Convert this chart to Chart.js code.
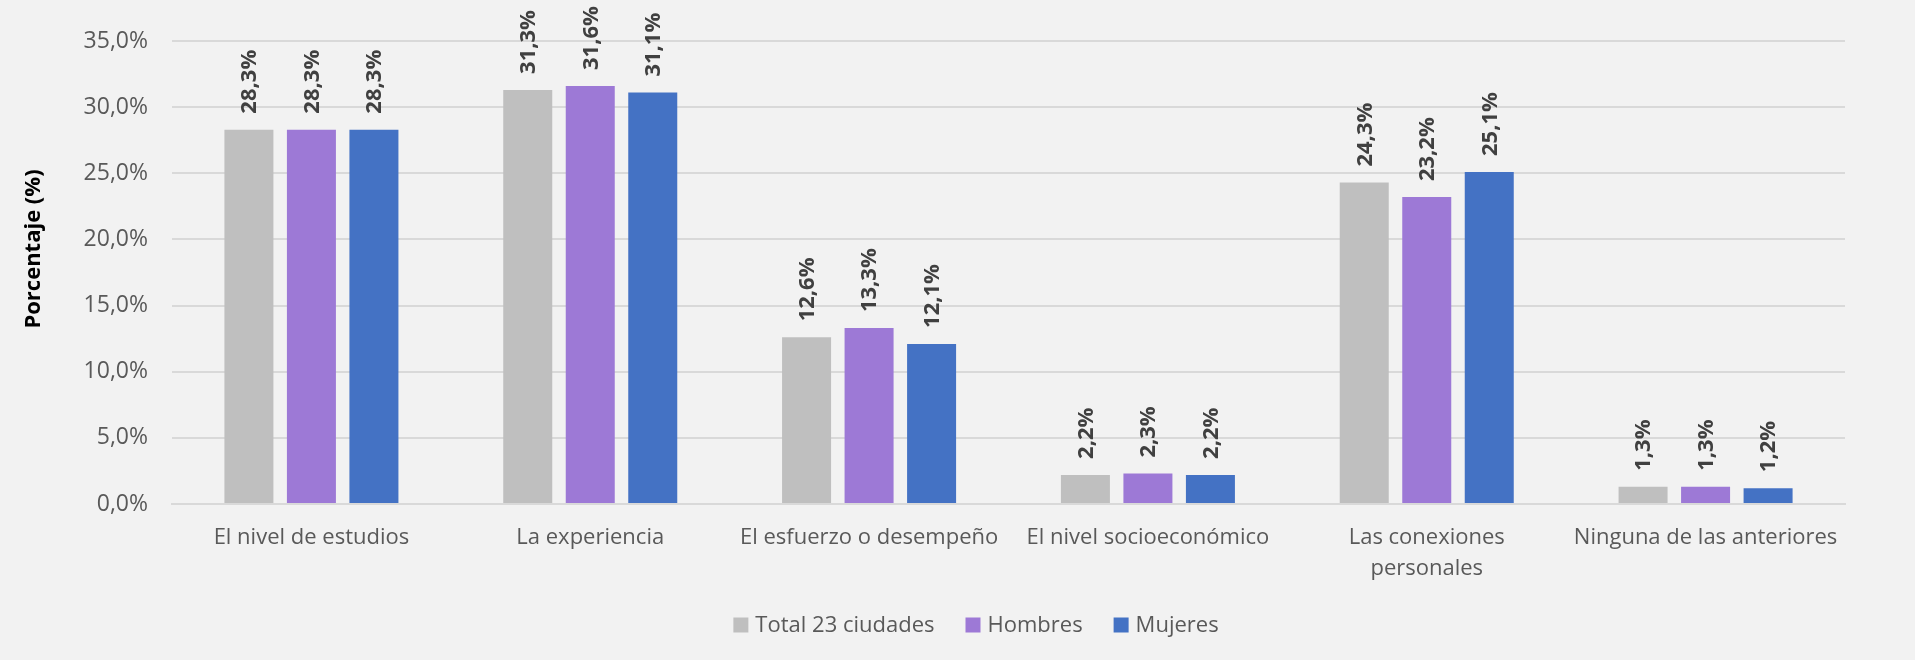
<!DOCTYPE html>
<html>
<head>
<meta charset="utf-8">
<script src="https://cdn.jsdelivr.net/npm/chart.js@4/dist/chart.umd.min.js"></script>
<style>
html,body{margin:0;padding:0;background:#f2f2f2;}
#wrap{width:1915px;height:660px;position:relative;}
</style>
</head>
<body>
<div id="wrap"><canvas id="c" width="1915" height="660"></canvas></div>
<script>
const categories = ['El nivel de estudios', 'La experiencia', 'El esfuerzo o desempeño', 'El nivel socioeconómico', ['Las conexiones', 'personales'], 'Ninguna de las anteriores'];
const seriesNames = ['Total 23 ciudades', 'Hombres', 'Mujeres'];
const totalValues = [28.3, 31.3, 12.6, 2.2, 24.3, 1.3];
const hombresValues = [28.3, 31.6, 13.3, 2.3, 23.2, 1.3];
const mujeresValues = [28.3, 31.1, 12.1, 2.2, 25.1, 1.2];
const seriesColors = ['#bfbfbf', '#9d79d6', '#4472c4'];
const yTitle = 'Porcentaje (%)';

const FONT = "'Open Sans', 'Noto Sans', sans-serif";
const fmt = v => v.toFixed(1).replace('.', ',') + '%';

const labelPlugin = {
  id: 'barLabels',
  afterDatasetsDraw(chart) {
    const ctx = chart.ctx;
    ctx.save();
    ctx.font = "bold 22px " + FONT;
    ctx.fillStyle = '#404040';
    ctx.textAlign = 'left';
    ctx.textBaseline = 'middle';
    chart.data.datasets.forEach((ds, i) => {
      const meta = chart.getDatasetMeta(i);
      meta.data.forEach((el, j) => {
        ctx.save();
        ctx.translate(el.x + 1, el.y - 16);
        ctx.rotate(-Math.PI / 2);
        ctx.fillText(fmt(ds.data[j]), 0, 0);
        ctx.restore();
      });
    });
    ctx.restore();

    // y axis title
    ctx.save();
    ctx.font = "bold 22px " + FONT;
    ctx.fillStyle = '#000000';
    ctx.textAlign = 'center';
    ctx.textBaseline = 'middle';
    ctx.translate(34, 249);
    ctx.rotate(-Math.PI / 2);
    ctx.fillText(yTitle, 0, 0);
    ctx.restore();

    // legend
    ctx.save();
    ctx.font = "22px " + FONT;
    ctx.textBaseline = 'middle';
    ctx.textAlign = 'left';
    const box = 15, gapText = 7, gapItem = 31, cx = 976, cy = 625;
    const widths = chart.data.datasets.map(d => ctx.measureText(d.label).width);
    const total = widths.reduce((a, w) => a + box + gapText + w, 0) + gapItem * (widths.length - 1);
    let x = cx - total / 2;
    chart.data.datasets.forEach((d, i) => {
      ctx.fillStyle = d.backgroundColor;
      ctx.fillRect(x, cy - box / 2, box, box);
      ctx.fillStyle = '#595959';
      ctx.fillText(d.label, x + box + gapText, cy + 1);
      x += box + gapText + widths[i] + gapItem;
    });
    ctx.restore();
  }
};

const bgPlugin = {
  id: 'bg',
  beforeDraw(chart) {
    const ctx = chart.ctx;
    ctx.save();
    ctx.fillStyle = '#f2f2f2';
    ctx.fillRect(0, 0, chart.width, chart.height);
    ctx.restore();
  }
};

const values = [totalValues, hombresValues, mujeresValues];
new Chart(document.getElementById('c'), {
  type: 'bar',
  data: {
    labels: categories,
    datasets: seriesNames.map((n, i) => ({
      label: n,
      data: values[i],
      backgroundColor: seriesColors[i],
      borderWidth: 0,
      categoryPercentage: 0.6725,
      barPercentage: 0.784
    }))
  },
  options: {
    responsive: false,
    animation: false,
    devicePixelRatio: 1,
    layout: { padding: { top: 41, right: 70, left: 0, bottom: 61 } },
    plugins: {
      legend: { display: false },
      tooltip: { enabled: false }
    },
    scales: {
      x: {
        grid: { display: false, drawTicks: false },
        border: { color: '#d9d9d9', width: 2 },
        ticks: {
          font: { family: FONT, size: 22, lineHeight: 1.38 },
          color: '#595959',
          padding: 19,
          maxRotation: 0,
          autoSkip: false
        },
        afterFit(s) { s.height = 95; }
      },
      y: {
        min: 0,
        max: 35,
        grid: { color: '#d9d9d9', lineWidth: 2, drawTicks: false },
        border: { display: false },
        ticks: {
          stepSize: 5,
          font: { family: FONT, size: 23 },
          color: '#595959',
          padding: 24,
          callback: v => fmt(v)
        },
        afterFit(s) { s.width = 172; }
      }
    }
  },
  plugins: [bgPlugin, labelPlugin]
});
</script>
</body>
</html>
